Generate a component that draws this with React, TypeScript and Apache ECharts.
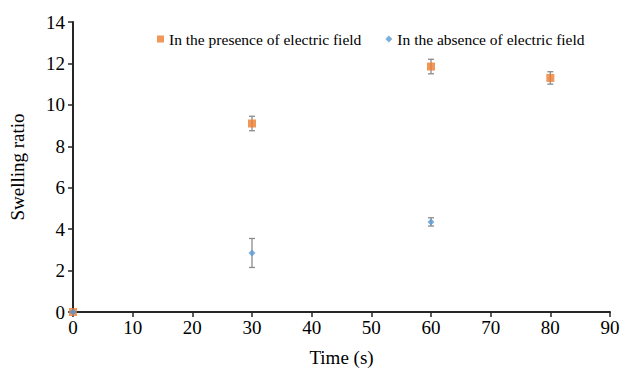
import React, { useEffect, useRef } from "react";
import * as echarts from "echarts";

const presenceX = [0, 30, 60, 80];
const presenceY = [0, 9.1, 11.85, 11.3];
const presenceErr = [0, 0.35, 0.35, 0.3];

const absenceX = [0, 30, 60];
const absenceY = [0, 2.85, 4.35];
const absenceErr = [0, 0.7, 0.2];

const xTicks = [0, 10, 20, 30, 40, 50, 60, 70, 80, 90];
const yTicks = [0, 2, 4, 6, 8, 10, 12, 14];

const FONT = "Liberation Serif";

function errorSeries(xs: number[], ys: number[], errs: number[]) {
  return {
    type: "custom",
    silent: true,
    z: 1,
    data: xs.map((x, i) => [x, ys[i] - errs[i], ys[i] + errs[i]]),
    renderItem: (params: any, api: any) => {
      const x = api.value(0);
      const lo = api.coord([x, api.value(1)]);
      const hi = api.coord([x, api.value(2)]);
      if (Math.abs(lo[1] - hi[1]) < 0.5) return { type: "group", children: [] };
      const w = 3;
      const style = { stroke: "#8c8c8c", lineWidth: 1.3 };
      return {
        type: "group",
        children: [
          { type: "line", shape: { x1: lo[0], y1: lo[1], x2: hi[0], y2: hi[1] }, style },
          { type: "line", shape: { x1: lo[0] - w, y1: lo[1], x2: lo[0] + w, y2: lo[1] }, style },
          { type: "line", shape: { x1: hi[0] - w, y1: hi[1], x2: hi[0] + w, y2: hi[1] }, style },
        ],
      };
    },
  };
}

export default function App() {
  const ref = useRef<HTMLDivElement>(null);
  useEffect(() => {
    if (!ref.current) return;
    const chart = echarts.init(ref.current, undefined, { renderer: "svg" });
    chart.setOption({
      animation: false,
      backgroundColor: "#ffffff",
      textStyle: { fontFamily: FONT },
      grid: { left: 72, right: 16, top: 22, bottom: 57, containLabel: false },
      legend: {
        top: 26,
        left: 152,
        itemWidth: 7,
        itemHeight: 7,
        itemGap: 24,
        textStyle: { fontFamily: FONT, fontSize: 15.5, color: "#000" },
        data: [
          { name: "In the presence of electric field", icon: "rect" },
          { name: "In the absence of electric field", icon: "diamond" },
        ],
      },
      xAxis: {
        type: "value",
        min: xTicks[0],
        max: xTicks[xTicks.length - 1],
        interval: 10,
        name: "Time (s)",
        nameLocation: "middle",
        nameGap: 36,
        nameTextStyle: { fontFamily: FONT, fontSize: 19, color: "#000" },
        axisLine: { lineStyle: { color: "#262626", width: 2 } },
        axisTick: { show: true, length: 5, lineStyle: { color: "#262626", width: 1.5 } },
        axisLabel: { fontFamily: FONT, fontSize: 19, color: "#000", margin: 6 },
        splitLine: { show: false },
      },
      yAxis: {
        type: "value",
        min: yTicks[0],
        max: yTicks[yTicks.length - 1],
        interval: 2,
        name: "Swelling ratio",
        nameLocation: "middle",
        nameGap: 46,
        nameTextStyle: { fontFamily: FONT, fontSize: 19, color: "#000" },
        axisLine: { show: true, lineStyle: { color: "#262626", width: 2 } },
        axisTick: { show: true, length: 5, lineStyle: { color: "#262626", width: 1.5 } },
        axisLabel: { fontFamily: FONT, fontSize: 19, color: "#000", margin: 8 },
        splitLine: { show: false },
      },
      series: [
        errorSeries(presenceX, presenceY, presenceErr),
        errorSeries(absenceX, absenceY, absenceErr),
        {
          name: "In the presence of electric field",
          type: "scatter",
          symbol: "rect",
          symbolSize: 8,
          z: 3,
          itemStyle: { color: "#ED7D31" },
          data: presenceX.map((x, i) => [x, presenceY[i]]),
        },
        {
          name: "In the absence of electric field",
          type: "scatter",
          symbol: "diamond",
          symbolSize: 7,
          z: 4,
          itemStyle: { color: "#5B9BD5" },
          data: absenceX.map((x, i) => [x, absenceY[i]]),
        },
      ],
    });
    return () => chart.dispose();
  }, []);
  return <div ref={ref} style={{ width: 626, height: 372, position: "absolute", left: 0, top: 0 }} />;
}
